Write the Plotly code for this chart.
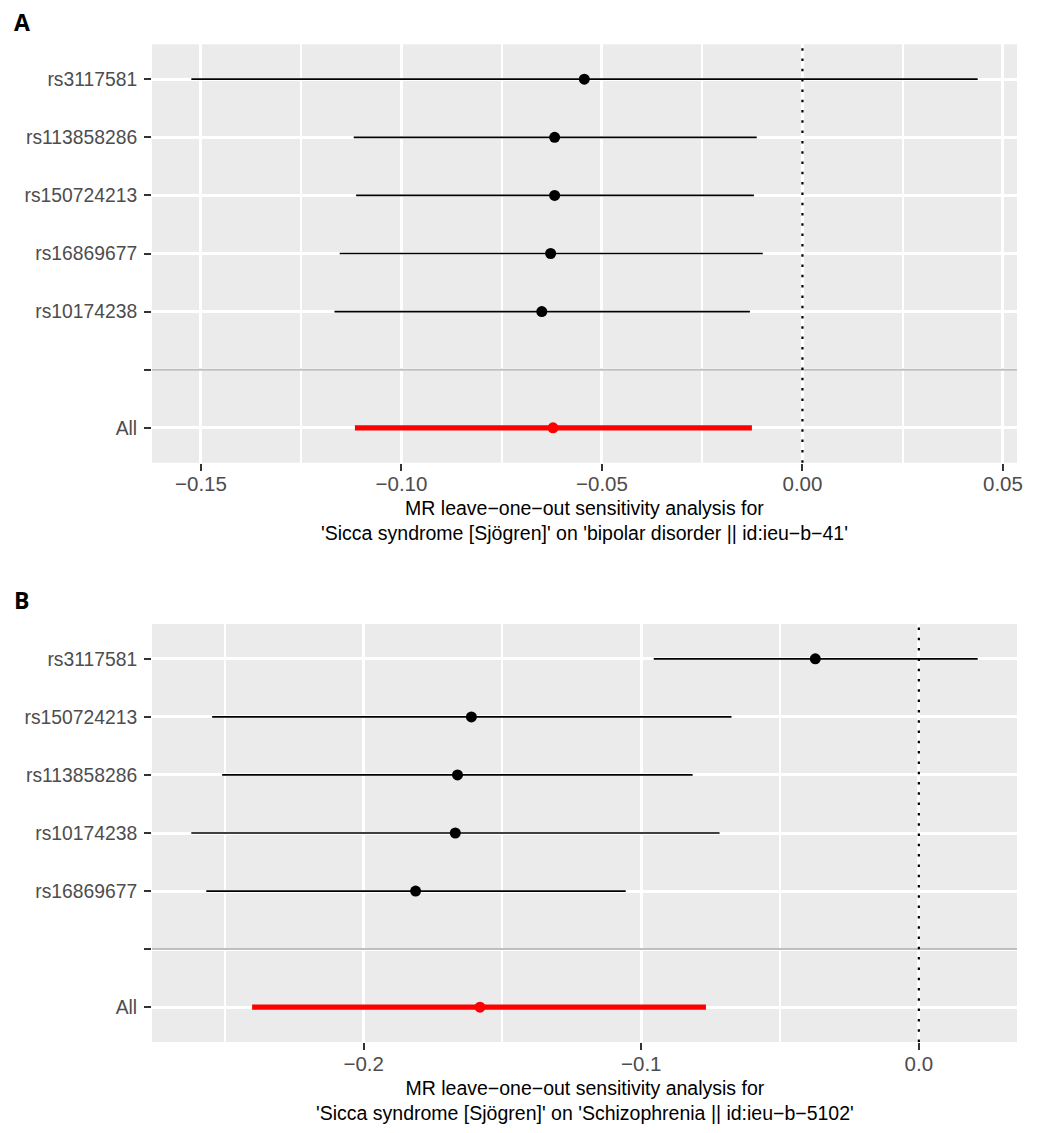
import plotly.graph_objects as go

# Panel A: leave-one-out, Sicca syndrome on bipolar disorder (rows listed top to bottom)
snps_a = ["rs3117581", "rs113858286", "rs150724213", "rs16869677", "rs10174238"]
b_a = [-0.0544, -0.0618, -0.0618, -0.0628, -0.0650]
lo_a = [-0.1524, -0.1119, -0.1113, -0.1154, -0.1167]
hi_a = [0.0437, -0.0114, -0.0121, -0.0099, -0.0131]
all_a = [-0.0622, -0.1116, -0.0126]  # b, lower, upper
title_a = ["MR leave−one−out sensitivity analysis for",
           "'Sicca syndrome [Sjögren]' on 'bipolar disorder || id:ieu−b−41'"]

# Panel B: leave-one-out, Sicca syndrome on schizophrenia
snps_b = ["rs3117581", "rs150724213", "rs113858286", "rs10174238", "rs16869677"]
b_b = [-0.0373, -0.1612, -0.1662, -0.1670, -0.1813]
lo_b = [-0.0955, -0.2546, -0.2510, -0.2621, -0.2567]
hi_b = [0.0212, -0.0675, -0.0815, -0.0718, -0.1056]
all_b = [-0.1581, -0.2402, -0.0767]
title_b = ["MR leave−one−out sensitivity analysis for",
           "'Sicca syndrome [Sjögren]' on 'Schizophrenia || id:ieu−b−5102'"]

W, H = 1037, 1133
FONT = "Liberation Sans, Arial, sans-serif"
BG = "#EBEBEB"


def px_x(p):
    return p / W


def px_y(p):
    return 1 - p / H


fig = go.Figure()

panels = [
    # (snps, b, lo, hi, all, title, box top/bottom px, major, minor, fmt, label, label y)
    (snps_a, b_a, lo_a, hi_a, all_a, title_a, (44.3, 462.7), 0.05, 0.025, ".2f", "A", 22),
    (snps_b, b_b, lo_b, hi_b, all_b, title_b, (624.0, 1042.0), 0.1, 0.05, ".1f", "B", 600),
]

shapes = []
annotations = []
for i, (snps, b, lo, hi, allv, title, (top, bot), major, minor, fmt, lab, lab_y) in enumerate(panels):
    n = i + 1
    xa = "x" if n == 1 else f"x{n}"
    ya = "y" if n == 1 else f"y{n}"
    pos = list(range(len(snps) + 2, 2, -1))  # top row highest, "All" at 1, blank at 2

    fig.add_trace(go.Scatter(
        x=b, y=pos, mode="markers", xaxis=xa, yaxis=ya,
        marker=dict(color="black", size=11),
        error_x=dict(type="data", symmetric=False,
                     array=[h - v for h, v in zip(hi, b)],
                     arrayminus=[v - l for v, l in zip(b, lo)],
                     color="black", thickness=1.7, width=0),
        showlegend=False, hoverinfo="skip"))
    fig.add_trace(go.Scatter(
        x=[allv[0]], y=[1], mode="markers", xaxis=xa, yaxis=ya,
        marker=dict(color="red", size=11),
        error_x=dict(type="data", symmetric=False,
                     array=[allv[2] - allv[0]], arrayminus=[allv[0] - allv[1]],
                     color="red", thickness=5.2, width=0),
        showlegend=False, hoverinfo="skip"))

    # ggplot-like 5% expansion of the data range
    xmin, xmax = min(lo + [allv[1]]), max(hi + [allv[2]])
    span = xmax - xmin
    xr = [xmin - 0.05 * span, xmax + 0.05 * span]

    axis_common = dict(
        showgrid=True, gridcolor="white", gridwidth=3.4, zeroline=False, showline=False,
        ticks="outside", ticklen=7, tickwidth=1.5, tickcolor="#333333", automargin=False)
    fig.update_layout({
        ("xaxis" if n == 1 else f"xaxis{n}"): dict(
            axis_common, domain=[px_x(152), px_x(1017)], anchor=ya, range=xr,
            tick0=0, dtick=major, tickformat=fmt, ticklabelstandoff=-4,
            tickfont=dict(family=FONT, size=20.5, color="#4D4D4D"),
            minor=dict(dtick=minor, showgrid=True, gridcolor="white", gridwidth=2.0)),
        ("yaxis" if n == 1 else f"yaxis{n}"): dict(
            axis_common, domain=[px_y(bot), px_y(top)], anchor=xa, range=[0.4, 7.6],
            tickvals=[1, 2] + pos[::-1], ticktext=["All", ""] + snps[::-1],
            tickfont=dict(family=FONT, size=19.3, color="#4D4D4D"),
            ticklabelstandoff=3),
    })

    # separator line above "All" and dotted null line
    shapes.append(dict(type="line", xref=f"{xa} domain", yref=ya, x0=0, x1=1, y0=2, y1=2,
                       line=dict(color="#BEBEBE", width=2)))
    shapes.append(dict(type="line", xref=xa, yref=f"{ya} domain", x0=0, x1=0, y0=0, y1=1,
                       line=dict(color="black", width=2.2, dash="2.5px,7.8px")))

    # two-line axis title under the panel
    annotations.append(dict(text="<br>".join(title), x=px_x((152 + 1017) / 2), y=px_y(bot + 58),
                            xref="paper", yref="paper", xanchor="center", yanchor="middle",
                            showarrow=False, font=dict(family=FONT, size=19.5, color="black")))
    annotations.append(dict(text=f"<b>{lab}</b>", x=px_x(12), y=px_y(lab_y), xref="paper", yref="paper",
                            xanchor="left", yanchor="middle", showarrow=False,
                            font=dict(family="Open Sans, sans-serif", size=23, color="black")))

fig.update_layout(
    width=W, height=H, margin=dict(l=0, r=0, t=0, b=0, autoexpand=False),
    paper_bgcolor="white", plot_bgcolor=BG,
    shapes=shapes, annotations=annotations,
    font=dict(family=FONT),
)

fig.write_html(
    "out.html",
    config={"displayModeBar": False},
    post_script="document.body.style.margin='0';",
)
